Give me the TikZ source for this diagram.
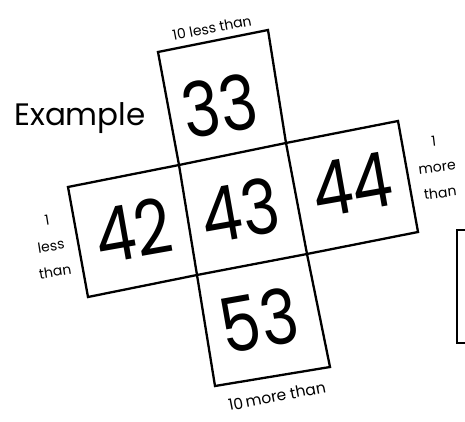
\documentclass[tikz,border=0pt]{standalone}
\usepackage{fontspec}
\setmainfont{Poppins}
\begin{document}
\begin{tikzpicture}[x=1pt,y=-1pt,
  gridline/.style={line width=2.3pt,line join=miter,black},
  numtxt/.style={inner sep=0pt,font=\fontsize{76}{76}\selectfont,rotate=10,xscale=0.84},
  lbl/.style={inner sep=0pt,font=\fontsize{14}{26}\selectfont,align=center}]
\useasboundingbox (0,0) rectangle (465,422);
\fill[white] (0,0) rectangle (465,422);
% corners
\coordinate (A) at (158,52);
\coordinate (B) at (268,30);
\coordinate (D) at (179,165);
\coordinate (C) at (286,143);
\coordinate (E) at (68,187);
\coordinate (F) at (398,121);
\coordinate (G) at (418,232);
\coordinate (H) at (88,297);
\coordinate (I) at (197,275);
\coordinate (J) at (307,254);
\coordinate (K) at (215,386);
\coordinate (L) at (330,367);
% cross outline and inner lines
\draw[gridline] (A) -- (B) -- (C) -- (F) -- (G) -- (J) -- (L) -- (K) -- (I) -- (H) -- (E) -- (D) -- cycle;
\draw[gridline] (D) -- (C) -- (J) -- (I) -- cycle;
% partial box at right edge
\coordinate (P1) at (470,230);
\coordinate (P2) at (457,230);
\coordinate (P3) at (457,343);
\coordinate (P4) at (470,343);
\draw[gridline] (P1) -- (P2) -- (P3) -- (P4);
% numbers
\node[numtxt] (n33) at (220,106) {33};
\node[numtxt] (n42) at (133,230) {42};
\node[numtxt] (n43) at (240,210) {43};
\node[numtxt] (n44) at (352,185) {44};
\node[numtxt] (n53) at (259,320) {53};
% labels
\node[inner sep=0pt,font=\fontsize{31}{31}\selectfont] (ex) at (80,118) {Example};
\node[lbl,rotate=11] (top) at (212,28) {10 less than};
\node[lbl,rotate=11,font=\fontsize{15.5}{20}\selectfont] (bot) at (277,396) {10\,more than};
\node[lbl,rotate=9] (left) at (51,246) {1\\less\\than};
\node[lbl,rotate=7] (right) at (437,167) {1\\more\\than};
\end{tikzpicture}
\end{document}
